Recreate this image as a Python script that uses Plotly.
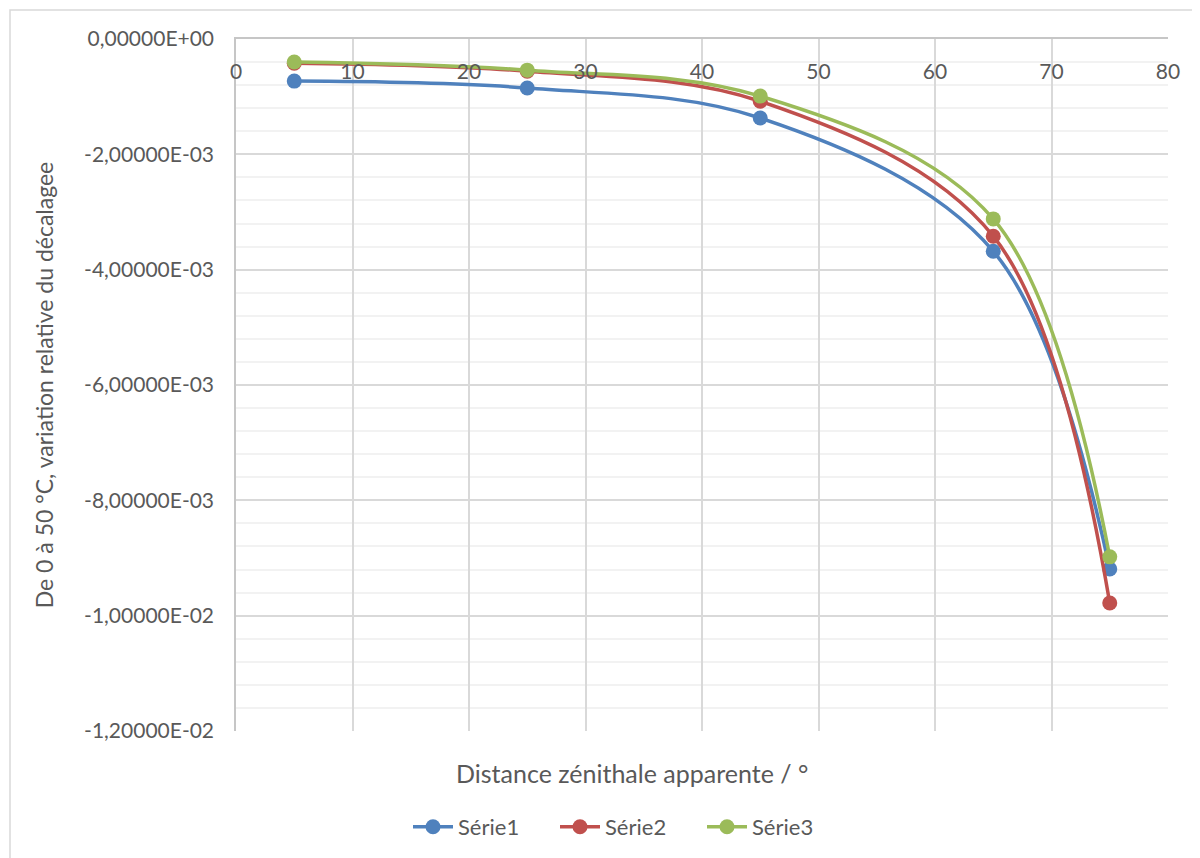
import plotly.graph_objects as go

# ---- data ----
distance = [5, 25, 45, 65, 75]
serie1 = [-0.00073, -0.00085, -0.00137, -0.00368, -0.00919]
serie2 = [-0.00042, -0.00056, -0.00108, -0.00342, -0.00978]
serie3 = [-0.00040, -0.00054, -0.00099, -0.00312, -0.00898]
series_names = ["Série1", "Série2", "Série3"]
series_colors = ["#4F81BD", "#C0504D", "#9BBB59"]

x_ticks = [0, 10, 20, 30, 40, 50, 60, 70, 80]
y_ticks = [0, -0.002, -0.004, -0.006, -0.008, -0.010, -0.012]
y_tick_labels = ["0,00000E+00", "-2,00000E-03", "-4,00000E-03", "-6,00000E-03",
                 "-8,00000E-03", "-1,00000E-02", "-1,20000E-02"]

FONT = "Lato"
TXT = "#595959"

fig = go.Figure()
for name, ys, col in zip(series_names, [serie1, serie2, serie3], series_colors):
    fig.add_trace(go.Scatter(
        x=distance, y=ys, name=name, mode="lines+markers",
        line=dict(color=col, width=3.5, shape="spline", smoothing=1),
        marker=dict(color=col, size=15),
    ))

# invisible helper trace so the label-only x axis (x2) is drawn
fig.add_trace(go.Scatter(
    x=distance, y=serie1, xaxis="x2", yaxis="y", mode="lines",
    line=dict(width=0, color="rgba(0,0,0,0)"), showlegend=False, hoverinfo="skip",
))

# page has an 8px body margin: convert target page pixels to figure pixels
OFF = 8
L, R, T, B = 236 - OFF, 1168 - OFF, 39 - OFF, 731 - OFF
W, H = 1200, 858
pw, ph = R - L, B - T

def px_x(p):
    return (p - OFF - L) / pw

def px_y(p):
    return (B - (p - OFF)) / ph

fig.update_layout(
    width=W, height=H,
    margin=dict(l=L, r=W - R, t=T, b=H - B, autoexpand=False),
    paper_bgcolor="white", plot_bgcolor="white",
    font=dict(family=FONT, color=TXT, size=21),
    showlegend=True,
    legend=dict(orientation="h", x=px_x(408), xanchor="left",
                y=px_y(827), yanchor="middle",
                font=dict(family=FONT, size=22, color=TXT),
                itemwidth=40, tracegroupgap=0,
                entrywidth=92, entrywidthmode="pixels"),
    xaxis=dict(
        range=[0, 80], tickvals=x_ticks, side="top", showticklabels=False,
        ticks="", ticklen=0, showgrid=True, gridcolor="#D9D9D9", gridwidth=1.5,
        showline=True, linecolor="#C6C6C6", linewidth=1.5, zeroline=False,
    ),
    xaxis2=dict(
        range=[0, 80], tickvals=x_ticks, overlaying="x",
        anchor="free", position=px_y(57), side="bottom", ticks="", ticklen=0,
        showgrid=False, showline=False, zeroline=False,
        tickfont=dict(size=21, color=TXT, family=FONT),
    ),
    yaxis=dict(
        range=[-0.012, 0], tickvals=y_ticks, ticktext=y_tick_labels,
        ticks="", ticklabelstandoff=16,
        showgrid=True, gridcolor="#D9D9D9", gridwidth=1.5,
        minor=dict(dtick=0.0004, showgrid=True, gridcolor="#F2F2F2", gridwidth=1.5),
        showline=True, linecolor="#C6C6C6", linewidth=1.5,
        zeroline=False, tickfont=dict(size=21, color=TXT, family=FONT),
        title=dict(text="De 0 à 50 °C, variation relative du décalagee",
                   font=dict(size=23, color=TXT, family=FONT), standoff=24),
    ),
    annotations=[dict(
        text="Distance zénithale apparente / °", xref="paper", yref="paper",
        x=px_x(632), y=px_y(773), xanchor="center", yanchor="middle",
        showarrow=False, font=dict(size=25, color=TXT, family=FONT),
    )],
    shapes=[dict(type="rect", xref="paper", yref="paper",
                 x0=px_x(10), x1=px_x(1260), y0=px_y(900), y1=px_y(10),
                 line=dict(color="#D9D9D9", width=1.5), layer="below")],
)

fig.write_html("out.html")
